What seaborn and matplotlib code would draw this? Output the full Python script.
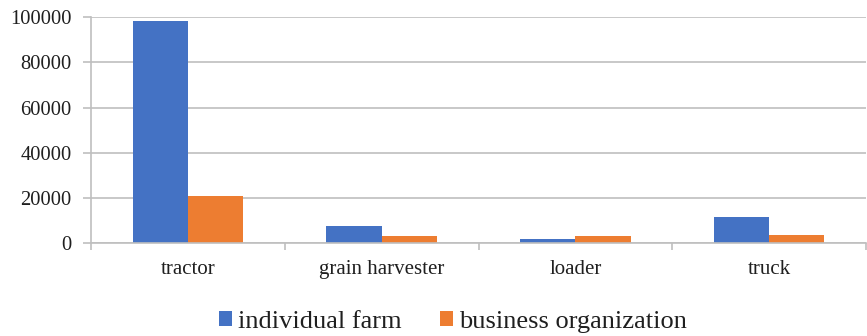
import matplotlib
matplotlib.use("Agg")
import matplotlib.pyplot as plt
import seaborn as sns
import pandas as pd
from matplotlib.patches import Patch

categories = ["tractor", "grain harvester", "loader", "truck"]
individual_farm = [98500, 7600, 1800, 11500]
business_organization = [21000, 3100, 3100, 3500]
series_names = ["individual farm", "business organization"]
y_ticks = [0, 20000, 40000, 60000, 80000, 100000]

colors = ["#4472C4", "#ED7D31"]
grid_color = "#BFBFBF"
text_color = "#1F1F1F"

df = pd.DataFrame({
    "category": categories * 2,
    "value": individual_farm + business_organization,
    "series": [series_names[0]] * 4 + [series_names[1]] * 4,
})

sns.set_theme(style="white")
plt.rcParams["font.family"] = ["Liberation Serif", "DejaVu Serif"]

fig = plt.figure(figsize=(8.67, 3.36), dpi=100)
ax = fig.add_axes([91 / 867, 92.7 / 336, 775 / 867, 226 / 336])

sns.barplot(data=df, x="category", y="value", hue="series", order=categories,
            hue_order=series_names, palette=colors, width=0.57, gap=0,
            saturation=1, linewidth=0, ax=ax, legend=False)

ax.set_xlim(-0.5, -0.5 + 775 / 196.5)
ax.set_ylim(0, 100000)
ax.set_yticks(y_ticks)
ax.set_yticklabels([str(v) for v in y_ticks])
ax.set_xlabel("")
ax.set_ylabel("")

ax.yaxis.grid(True, color=grid_color, linewidth=1.2)
ax.set_axisbelow(True)
for side in ["top", "right"]:
    ax.spines[side].set_visible(False)
for side in ["left", "bottom"]:
    ax.spines[side].set_color(grid_color)
    ax.spines[side].set_linewidth(1.2)

ax.tick_params(axis="y", which="major", left=True, length=6, width=1.2,
               color=grid_color, pad=8, labelsize=14.8, labelcolor=text_color)
ax.tick_params(axis="x", which="major", bottom=False, length=0, pad=12,
               labelsize=15, labelcolor=text_color)
ax.set_xticks([i - 0.5 for i in range(len(categories) + 1)], minor=True)
ax.tick_params(axis="x", which="minor", bottom=True, length=5, width=1.2,
               color=grid_color)

handles = [Patch(facecolor=c, edgecolor="none", label=n)
           for c, n in zip(colors, series_names)]
fig.legend(handles=handles, loc="center", bbox_to_anchor=(453 / 867, 14 / 336),
           ncol=2, frameon=False, fontsize=19, handlelength=0.49,
           handleheight=0.49, handletextpad=0.23, columnspacing=1.48,
           borderpad=0, labelcolor=text_color)

fig.savefig("out.png", dpi=100)
